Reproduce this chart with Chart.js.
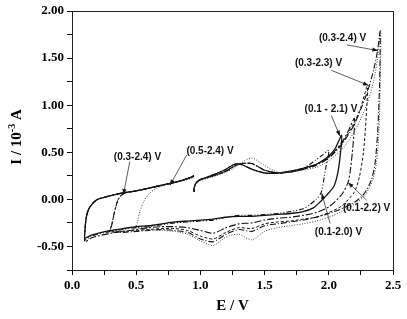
<!DOCTYPE html>
<html>
<head>
<meta charset="utf-8">
<script src="https://cdn.jsdelivr.net/npm/chart.js@4.4.0/dist/chart.umd.min.js"></script>
<style>
  body { margin: 0; background: #fff; }
  #wrap { width: 407px; height: 319px; }
</style>
</head>
<body>
<div id="wrap"><canvas id="cv" width="407" height="319"></canvas></div>
<script>
// anodic start at ~0.95 V (shared by every scan)
const startE    = [0.95, 0.955, 0.97, 1.0, 1.1, 1.2, 1.26, 1.32, 1.4, 1.5, 1.6, 1.7, 1.8];
const startI    = [0.08, 0.14, 0.18, 0.21, 0.26, 0.32, 0.37, 0.37, 0.32, 0.28, 0.28, 0.30, 0.33];
const startMidI = [0.08, 0.14, 0.18, 0.21, 0.25, 0.30, 0.35, 0.38, 0.38, 0.31, 0.28, 0.29, 0.32];
const startDotI = [0.08, 0.13, 0.17, 0.20, 0.24, 0.29, 0.33, 0.39, 0.44, 0.36, 0.29, 0.29, 0.31];

// turning region: up to the vertex potential and back down
const turn20E = [1.85, 1.9, 1.95, 2.0, 1.98, 1.96, 1.94, 1.9, 1.85, 1.8, 1.7, 1.6];
const turn20I = [0.37, 0.42, 0.47, 0.52, 0.36, 0.20, 0.07, 0.0, -0.06, -0.10, -0.13, -0.15];
const turn21E = [1.85, 1.9, 1.95, 2.0, 2.05, 2.1, 2.09, 2.07, 2.04, 1.98, 1.93, 1.88, 1.8, 1.7, 1.6];
const turn21I = [0.35, 0.37, 0.41, 0.46, 0.54, 0.68, 0.48, 0.28, 0.14, 0.04, -0.03, -0.09, -0.13, -0.15, -0.16];
const turn22E = [1.9, 2.0, 2.1, 2.15, 2.2, 2.19, 2.17, 2.15, 2.1, 2.0, 1.9, 1.8, 1.7, 1.6];
const turn22I = [0.37, 0.45, 0.60, 0.72, 0.86, 0.60, 0.33, 0.18, 0.05, -0.08, -0.14, -0.17, -0.19, -0.20];
const turn23E = [1.9, 2.0, 2.1, 2.2, 2.25, 2.3, 2.29, 2.27, 2.24, 2.2, 2.1, 2.0, 1.9, 1.8, 1.7, 1.6];
const turn23I = [0.37, 0.45, 0.59, 0.82, 0.98, 1.20, 0.85, 0.50, 0.25, 0.08, -0.07, -0.14, -0.19, -0.21, -0.23, -0.24];
const turn24E = [1.9, 2.0, 2.1, 2.2, 2.3, 2.35, 2.38, 2.4, 2.395, 2.38, 2.36, 2.33, 2.27, 2.2, 2.1, 2.0, 1.9, 1.8, 1.7, 1.6];
const turn24I = [0.36, 0.44, 0.58, 0.80, 1.14, 1.38, 1.58, 1.78, 1.20, 0.70, 0.38, 0.20, 0.05, -0.03, -0.10, -0.15, -0.19, -0.22, -0.24, -0.26];
const turn05E = [1.9, 2.0, 2.1, 2.2, 2.3, 2.35, 2.38, 2.405, 2.4, 2.39, 2.37, 2.34, 2.28, 2.2, 2.1, 2.0, 1.9, 1.8, 1.7, 1.6];
const turn05I = [0.34, 0.41, 0.53, 0.72, 1.02, 1.26, 1.50, 1.80, 1.20, 0.70, 0.38, 0.20, 0.04, -0.05, -0.13, -0.19, -0.23, -0.26, -0.28, -0.30];

// cathodic branch
const lowE  = [1.5, 1.4, 1.3, 1.2, 1.1, 1.0, 0.9, 0.8, 0.7, 0.6, 0.5, 0.4, 0.3, 0.2, 0.15, 0.1];
const low20 = [-0.16, -0.17, -0.17, -0.19, -0.22, -0.23, -0.24, -0.25, -0.27, -0.29, -0.30, -0.32, -0.34, -0.37, -0.39, -0.43];
const low21 = [-0.17, -0.18, -0.18, -0.19, -0.21, -0.22, -0.23, -0.24, -0.26, -0.28, -0.29, -0.31, -0.33, -0.36, -0.38, -0.41];
const low22 = [-0.22, -0.25, -0.26, -0.30, -0.36, -0.33, -0.30, -0.29, -0.29, -0.30, -0.32, -0.34, -0.36, -0.39, -0.41, -0.45];
const low23 = [-0.26, -0.31, -0.30, -0.35, -0.42, -0.39, -0.33, -0.31, -0.31, -0.32, -0.33, -0.34, -0.33];
const low24 = [-0.28, -0.34, -0.32, -0.37, -0.45, -0.42, -0.35, -0.33, -0.32, -0.33, -0.34, -0.35, -0.34];
const low05 = [-0.34, -0.43, -0.37, -0.40, -0.49, -0.44, -0.37, -0.34, -0.33, -0.32, -0.30];

// return to ~0.95 V from the lower limit
const ret01E = [0.102, 0.108, 0.12, 0.14, 0.17, 0.2, 0.25, 0.3, 0.4, 0.5, 0.6, 0.7, 0.8, 0.9, 0.95];
const ret01I = [-0.32, -0.22, -0.14, -0.08, -0.03, 0.0, 0.02, 0.04, 0.07, 0.09, 0.12, 0.15, 0.18, 0.22, 0.25];
const ret03E = [0.31, 0.33, 0.36, 0.4, 0.5, 0.6, 0.7, 0.8, 0.9, 0.95];
const ret03I = [-0.27, -0.14, 0.0, 0.06, 0.09, 0.12, 0.15, 0.18, 0.22, 0.24];
const ret05E = [0.51, 0.53, 0.56, 0.6, 0.66, 0.72, 0.8, 0.9, 0.95];
const ret05I = [-0.24, -0.12, -0.02, 0.06, 0.12, 0.15, 0.18, 0.21, 0.23];

function pts(es, is) { return es.slice(0, is.length).map((e, k) => ({x: e, y: is[k]})); }

const loop20 = [].concat(pts(startE, startI), pts(turn20E, turn20I), pts(lowE, low20), pts(ret01E, ret01I));
const loop21 = [].concat(pts(startE, startI), pts(turn21E, turn21I), pts(lowE, low21), pts(ret01E, ret01I));
const loop22 = [].concat(pts(startE, startMidI), pts(turn22E, turn22I), pts(lowE, low22), pts(ret01E, ret01I));
const loop23 = [].concat(pts(startE, startMidI), pts(turn23E, turn23I), pts(lowE, low23), pts(ret03E, ret03I));
const loop24 = [].concat(pts(startE, startMidI), pts(turn24E, turn24I), pts(lowE, low24), pts(ret03E, ret03I));
const loop05 = [].concat(pts(startE, startDotI), pts(turn05E, turn05I), pts(lowE, low05), pts(ret05E, ret05I));

// labels with leader arrows: text centre, line start, arrow tip (data units)
const notes = [
    {t: '(0.3-2.4) V', x: 2.107, y: 1.71, x1: 2.14, y1: 1.64, x2: 2.383, y2: 1.58},
    {t: '(0.3-2.3) V', x: 1.92, y: 1.44, x1: 2.02, y1: 1.37, x2: 2.31, y2: 1.21},
    {t: '(0.1 - 2.1) V', x: 2.017, y: 0.957, x1: 2.02, y1: 0.89, x2: 2.087, y2: 0.67},
    {t: '(0.5-2.4) V', x: 1.075, y: 0.51, x1: 0.893, y1: 0.47, x2: 0.763, y2: 0.15},
    {t: '(0.3-2.4) V', x: 0.51, y: 0.45, x1: 0.45, y1: 0.40, x2: 0.40, y2: 0.05},
    {t: '(0.1-2.2) V', x: 2.294, y: -0.096, x1: 2.295, y1: -0.01, x2: 2.15, y2: 0.18},
    {t: '(0.1-2.0) V', x: 2.075, y: -0.35, x1: 2.01, y1: -0.255, x2: 1.945, y2: 0.064}
];

function line(data, dash, w, color) {
    return {
        data: data,
        showLine: true,
        borderColor: color || '#111',
        borderWidth: w,
        borderDash: dash,
        pointRadius: 0,
        tension: 0.25,
        fill: false
    };
}

const framePlugin = {
    id: 'frame',
    afterDatasetsDraw(chart) {
        const ctx = chart.ctx, a = chart.chartArea;
        const xs = chart.scales.x, ys = chart.scales.y;
        ctx.save();
        ctx.strokeStyle = '#222';
        ctx.lineWidth = 1;
        ctx.strokeRect(a.left + 0.5, a.top + 0.5, a.right - a.left, a.bottom - a.top);

        // annotations
        ctx.font = 'bold 10px "Liberation Sans", Arial, sans-serif';
        ctx.fillStyle = '#111';
        ctx.textAlign = 'center';
        ctx.textBaseline = 'middle';
        notes.forEach(n => {
            ctx.fillText(n.t, xs.getPixelForValue(n.x), ys.getPixelForValue(n.y));
            const px1 = xs.getPixelForValue(n.x1), py1 = ys.getPixelForValue(n.y1);
            const px2 = xs.getPixelForValue(n.x2), py2 = ys.getPixelForValue(n.y2);
            ctx.strokeStyle = '#333';
            ctx.lineWidth = 0.8;
            ctx.beginPath();
            ctx.moveTo(px1, py1);
            ctx.lineTo(px2, py2);
            ctx.stroke();
            const ang = Math.atan2(py2 - py1, px2 - px1);
            ctx.beginPath();
            ctx.moveTo(px2, py2);
            ctx.lineTo(px2 - 6 * Math.cos(ang - 0.35), py2 - 6 * Math.sin(ang - 0.35));
            ctx.lineTo(px2 - 6 * Math.cos(ang + 0.35), py2 - 6 * Math.sin(ang + 0.35));
            ctx.closePath();
            ctx.fill();
        });

        // y title with superscript
        ctx.translate(17, 137);
        ctx.rotate(-Math.PI / 2);
        ctx.textAlign = 'left';
        ctx.textBaseline = 'middle';
        ctx.fillStyle = '#000';
        const big = 'bold 15px "Liberation Serif", "Times New Roman", serif';
        const small = 'bold 10px "Liberation Serif", "Times New Roman", serif';
        const parts = [['I / 10', big, 0], ['-3', small, -5], [' A', big, 0]];
        let w = 0;
        parts.forEach(p => { ctx.font = p[1]; w += ctx.measureText(p[0]).width; });
        let x = -w / 2;
        parts.forEach(p => {
            ctx.font = p[1];
            ctx.fillText(p[0], x, p[2]);
            x += ctx.measureText(p[0]).width;
        });
        ctx.restore();
    }
};

const tickFont = {family: '"Liberation Serif", "Times New Roman", serif', size: 13, weight: 'bold'};

new Chart(document.getElementById('cv').getContext('2d'), {
    type: 'scatter',
    data: {
        datasets: [
            line(loop05, [1, 1.6], 1.0, '#444'),
            line(loop24, [6, 2, 1, 2], 1.1),
            line(loop23, [3, 2], 1.0),
            line(loop22, [7, 2, 2, 2], 1.1),
            line(loop20, [5, 2, 1, 2, 1, 2], 1.1),
            line(loop21, [], 1.3)
        ]
    },
    options: {
        responsive: false,
        devicePixelRatio: 1,
        animation: false,
        layout: {padding: {top: 11, right: 14, left: 0, bottom: 0}},
        plugins: {legend: {display: false}, tooltip: {enabled: false}},
        scales: {
            x: {
                type: 'linear',
                min: 0,
                max: 2.5,
                afterFit: s => { s.height = 49; },
                ticks: {
                    stepSize: 0.25,
                    autoSkip: false,
                    maxRotation: 0,
                    color: '#000',
                    font: tickFont,
                    padding: 3,
                    callback: v => (Math.abs(v * 2 - Math.round(v * 2)) < 1e-6 ? v.toFixed(1) : '')
                },
                grid: {drawOnChartArea: false, tickLength: 5, color: '#000'},
                border: {color: '#000', width: 1},
                title: {
                    display: true,
                    text: 'E / V',
                    color: '#000',
                    font: {family: '"Liberation Serif", "Times New Roman", serif', size: 15, weight: 'bold'},
                    padding: {top: 0, bottom: 4}
                }
            },
            y: {
                min: -0.75,
                max: 2.0,
                afterFit: s => { s.width = 72; },
                ticks: {
                    stepSize: 0.25,
                    autoSkip: false,
                    color: '#000',
                    font: tickFont,
                    padding: 3,
                    callback: v => (Math.abs(v * 2 - Math.round(v * 2)) < 1e-6 ? v.toFixed(2) : '')
                },
                grid: {drawOnChartArea: false, tickLength: 5, color: '#000'},
                border: {color: '#000', width: 1}
            }
        }
    },
    plugins: [framePlugin]
});
</script>
</body>
</html>
